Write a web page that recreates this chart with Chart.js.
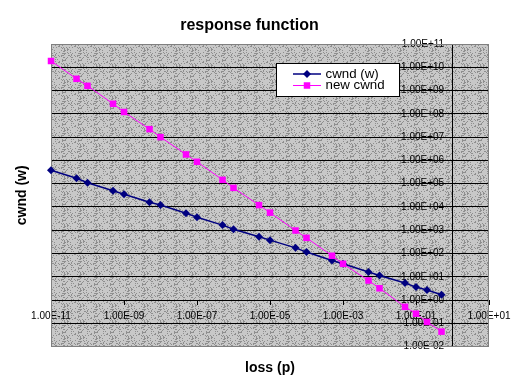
<!DOCTYPE html>
<html><head><meta charset="utf-8">
<script src="https://cdn.jsdelivr.net/npm/chart.js@4/dist/chart.umd.min.js"></script>
<style>html,body{margin:0;padding:0;background:#fff}#wrap{width:521px;height:385px}</style>
</head><body><div id="wrap"><canvas id="c" width="521" height="385"></canvas></div>
<script>
const lossValues = [1e-11,5e-11,1e-10,5e-10,1e-9,5e-9,1e-8,5e-8,1e-7,5e-7,1e-6,5e-6,1e-5,5e-5,1e-4,5e-4,1e-3,5e-3,1e-2,5e-2,1e-1,2e-1,5e-1];
const cwndValues = [3.8e5,1.7e5,1.1e5,5.0e4,3.5e4,1.6e4,1.2e4,5.4e3,3.6e3,1.66e3,1.1e3,520,375,175,115,50,36,16,11.4,5.4,3.6,2.7,1.7];
const newCwndValues = [1.86e10,3.2e9,1.6e9,2.7e8,1.2e8,2.2e7,1.0e7,1.8e6,8.7e5,1.46e5,6.6e4,1.2e4,5.7e3,970,470,80,36,6.9,3.2,0.51,0.26,0.115,0.044];
const seriesNames = ['cwnd (w)','new cwnd'];
const xTickValues = [1e-11,1e-9,1e-7,1e-5,1e-3,1e-1,1e1];
const yTickValues = [1e-2,1e-1,1e0,1e1,1e2,1e3,1e4,1e5,1e6,1e7,1e8,1e9,1e10,1e11];

const FONT = 'Liberation Sans, Arial, sans-serif';
function sci(v){
  const e = Math.floor(Math.log10(v) + 1e-9);
  const m = v / Math.pow(10, e);
  const a = Math.abs(e);
  return m.toFixed(2) + 'E' + (e < 0 ? '-' : '+') + (a < 10 ? '0' : '') + a;
}

// stipple texture for the plot area (purely decorative)
function makePattern(ctx){
  const N = 16;
  const pc = document.createElement('canvas');
  pc.width = N; pc.height = N;
  const p = pc.getContext('2d');
  p.fillStyle = '#c8c8c8'; p.fillRect(0,0,N,N);
  p.fillStyle = '#8e8e8e';
  for (let y = 0; y < N; y++) for (let x = 0; x < N; x++) {
    const h = ((x * 73856093) ^ (y * 19349663) ^ ((x + y) * 83492791)) >>> 0;
    if ((h % 100) < 20) p.fillRect(x, y, 1, 1);
  }
  return ctx.createPattern(pc,'repeat');
}

const bgPlugin = {
  id:'bg',
  beforeDraw(chart){
    const {ctx, chartArea:a} = chart;
    ctx.save();
    ctx.fillStyle = '#fff'; ctx.fillRect(0,0,chart.width,chart.height);
    ctx.fillStyle = makePattern(ctx);
    ctx.fillRect(a.left, a.top, a.right-a.left, a.bottom-a.top);
    ctx.restore();
  },
  beforeDatasetsDraw(chart){
    const {ctx, chartArea:a} = chart;
    ctx.save();
    ctx.strokeStyle = '#808080'; ctx.lineWidth = 1;
    ctx.strokeRect(Math.round(a.left)+0.5, Math.round(a.top)+0.5, Math.round(a.right-a.left)-1, Math.round(a.bottom-a.top)-1);
    ctx.restore();
  }
};

const legendPlugin = {
  id:'boxLegend',
  afterDraw(chart){
    const ctx = chart.ctx;
    ctx.save();
    ctx.fillStyle = '#fff'; ctx.strokeStyle = '#000'; ctx.lineWidth = 1;
    ctx.fillRect(276.5, 63.5, 123, 33);
    ctx.strokeRect(276.5, 63.5, 123, 33);
    const rows = [74, 85.5];
    chart.data.datasets.forEach((ds, i) => {
      const y = rows[i];
      ctx.strokeStyle = ds.borderColor; ctx.lineWidth = ds.borderWidth;
      ctx.beginPath(); ctx.moveTo(293, y); ctx.lineTo(321, y); ctx.stroke();
      ctx.fillStyle = ds.backgroundColor;
      const cx = 307, r = ds.pointRadius;
      ctx.beginPath();
      if (ds.pointStyle === 'rectRot') {
        ctx.moveTo(cx - r, y); ctx.lineTo(cx, y - r); ctx.lineTo(cx + r, y); ctx.lineTo(cx, y + r); ctx.closePath();
      } else {
        const s = r * Math.SQRT1_2; ctx.rect(cx - s, y - s, 2*s, 2*s);
      }
      ctx.fill();
      ctx.fillStyle = '#000'; ctx.font = '13.3px ' + FONT; ctx.textBaseline = 'middle'; ctx.textAlign = 'left';
      ctx.fillText(ds.label, 325.5, y);
    });
    ctx.restore();
  }
};

const toPoints = vals => lossValues.map((p,i)=>({x:p, y:vals[i]}));

new Chart(document.getElementById('c'), {
  type:'scatter',
  data:{
    datasets:[
      {label:seriesNames[0], data:toPoints(cwndValues), showLine:true, borderColor:'#000080', backgroundColor:'#000080',
       borderWidth:1.5, pointStyle:'rectRot', pointRadius:4, pointBorderWidth:0, pointHoverRadius:4, clip:false, order:1, xAxisID:'x', yAxisID:'y'},
      {label:seriesNames[1], data:toPoints(newCwndValues), showLine:true, borderColor:'#ff00ff', backgroundColor:'#ff00ff',
       borderWidth:1, pointStyle:'rect', pointRadius:4.6, pointBorderWidth:0, pointHoverRadius:4.6, clip:false, order:0, xAxisID:'x', yAxisID:'y'}
    ]
  },
  options:{
    responsive:false, animation:false, devicePixelRatio:1,
    layout:{padding:{left:10, right:32, top:0, bottom:4}},
    plugins:{
      legend:{display:false}, tooltip:{enabled:false},
      title:{display:true, text:'response function', color:'#000', font:{family:FONT, size:16, weight:'bold'}, padding:{top:16.4, bottom:8.4}}
    },
    scales:{
      x:{type:'logarithmic', axis:'x', min:1e-11, max:10, position:{y:1},
         afterBuildTicks:s=>{s.ticks = xTickValues.map(v=>({value:v}));},
         afterFit:s=>{s.height = 0;},
         ticks:{autoSkip:false, maxRotation:0, color:'#000', font:{family:FONT, size:10}, padding:6, callback:v=>sci(v)},
         grid:{drawOnChartArea:false, drawTicks:true, tickLength:4, color:'#000'},
         border:{color:'#000', width:1}},
      y:{type:'logarithmic', axis:'y', min:1e-2, max:1e11, position:{x:1},
         afterBuildTicks:s=>{s.ticks = yTickValues.map(v=>({value:v}));},
         afterFit:s=>{s.width = 0;},
         ticks:{autoSkip:false, color:'#000', font:{family:FONT, size:10}, padding:2, callback:v=>sci(v) + '   '},
         grid:{color:'#000', tickLength:8},
         border:{color:'#000', width:1}},
      x2:{type:'linear', axis:'x', position:'bottom', ticks:{display:false}, grid:{display:false, drawTicks:false}, border:{display:false},
         title:{display:true, text:'loss (p)', color:'#000', font:{family:FONT, size:14, weight:'bold'}, padding:{top:13.6, bottom:4}}},
      y2:{type:'linear', axis:'y', position:'left', ticks:{display:false}, grid:{display:false, drawTicks:false}, border:{display:false},
         title:{display:true, text:'cwnd (w)', color:'#000', font:{family:FONT, size:14, weight:'bold'}, padding:{top:4, bottom:20.2}}}
    }
  },
  plugins:[bgPlugin, legendPlugin]
});
</script></body></html>
